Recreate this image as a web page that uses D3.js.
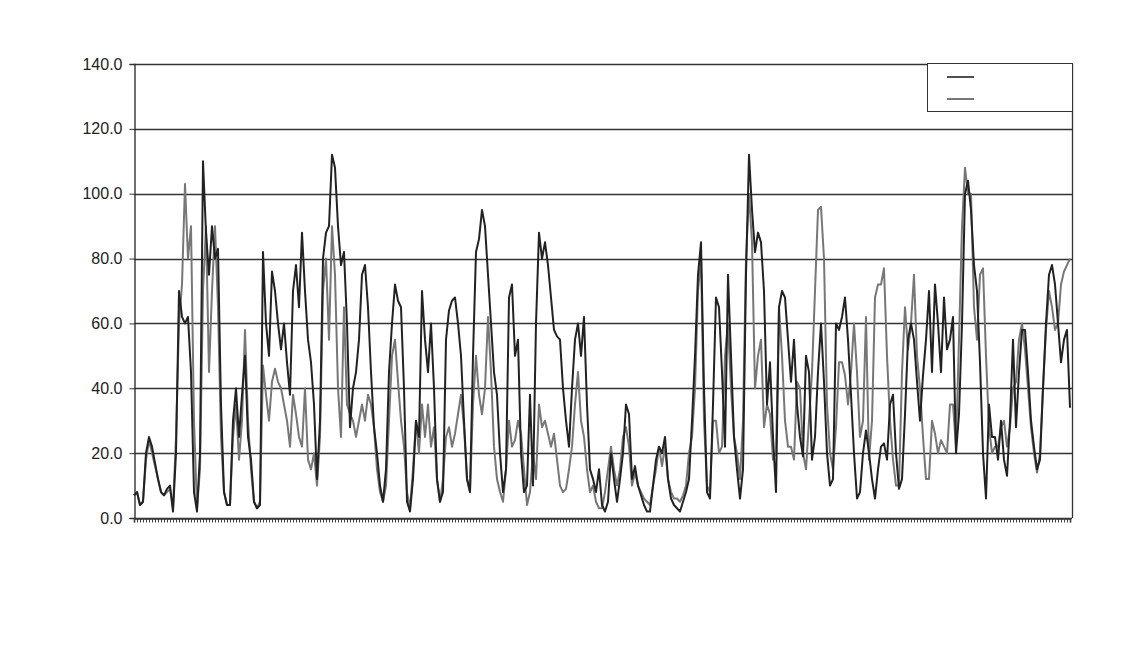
<!DOCTYPE html>
<html>
<head>
<meta charset="utf-8">
<script src="https://cdn.jsdelivr.net/npm/d3@7"></script>
<style>
  html, body { margin: 0; padding: 0; background: #ffffff; }
  svg { display: block; }
  text { font-family: "Liberation Sans", Arial, sans-serif; }
</style>
</head>
<body>
<svg id="chart" width="1133" height="648"></svg>
<script>
const yTicks = [0, 20, 40, 60, 80, 100, 120, 140];

const seriesDark = [
  7, 8, 4, 5, 20, 25, 22, 17, 12, 8, 7, 9, 10, 2, 20, 70, 62, 60, 62, 45,
  8, 2, 20, 110, 88, 75, 90, 80, 83, 35, 8, 4, 4, 30, 40, 25, 38, 50, 25, 18,
  5, 3, 4, 82, 60, 50, 76, 70, 60, 52, 60, 48, 38, 70, 78, 65, 88, 70, 55, 48,
  35, 12, 30, 80, 88, 90, 112, 108, 90, 78, 82, 60, 28, 40, 45, 55, 75, 78, 65, 45,
  28, 20, 10, 5, 15, 45, 60, 72, 67, 65, 40, 5, 2, 12, 30, 25, 70, 55, 45, 60,
  40, 12, 5, 8, 55, 64, 67, 68, 60, 50, 30, 12, 8, 50, 82, 86, 95, 90, 75, 60,
  45, 38, 20, 8, 15, 68, 72, 50, 55, 20, 8, 10, 38, 10, 60, 88, 80, 85, 78, 68,
  58, 56, 55, 40, 30, 22, 40, 55, 60, 50, 62, 35, 15, 12, 8, 15, 4, 2, 5, 20,
  12, 5, 12, 20, 35, 32, 12, 16, 10, 7, 4, 2, 2, 10, 18, 22, 20, 25, 12, 6,
  4, 3, 2, 5, 8, 12, 30, 50, 75, 85, 40, 8, 6, 35, 68, 65, 45, 22, 75, 50,
  25, 15, 6, 15, 75, 112, 95, 82, 88, 85, 70, 35, 48, 25, 8, 65, 70, 68, 55, 42,
  55, 35, 25, 19, 50, 45, 18, 25, 45, 60, 42, 20, 10, 12, 60, 58, 62, 68, 55, 38,
  20, 6, 8, 20, 27, 20, 12, 6, 15, 22, 23, 18, 35, 38, 20, 9, 12, 32, 55, 60,
  55, 42, 30, 44, 55, 70, 45, 72, 60, 45, 68, 52, 55, 62, 20, 32, 60, 100, 104, 95,
  78, 70, 48, 20, 6, 35, 25, 25, 18, 30, 18, 13, 30, 55, 28, 45, 58, 58, 45, 30,
  22, 15, 18, 40, 60, 75, 78, 72, 60, 48, 55, 58, 34
];

const seriesGrey = [
  7, 8, 4, 5, 18, 24, 20, 16, 12, 8, 7, 8, 9, 3, 25, 60, 72, 103, 80, 90,
  30, 3, 15, 70, 90, 45, 70, 90, 65, 25, 8, 4, 4, 25, 35, 18, 30, 58, 30, 15,
  5, 3, 5, 47, 38, 30, 42, 46, 42, 40, 35, 30, 22, 38, 32, 25, 22, 40, 18, 15,
  20, 10, 25, 70, 80, 55, 90, 75, 40, 25, 65, 35, 32, 30, 25, 30, 35, 30, 38, 35,
  28, 15, 8, 5, 10, 30, 50, 55, 42, 30, 22, 8, 3, 15, 30, 20, 35, 25, 35, 22,
  28, 12, 5, 12, 25, 28, 22, 26, 32, 38, 28, 12, 8, 35, 50, 38, 32, 40, 62, 45,
  22, 12, 8, 5, 15, 30, 22, 24, 30, 26, 15, 4, 8, 20, 12, 35, 28, 30, 26, 22,
  26, 18, 10, 8, 9, 15, 22, 35, 45, 30, 25, 15, 8, 10, 5, 3, 3, 8, 15, 22,
  15, 10, 15, 25, 28, 22, 10, 14, 10, 8, 6, 5, 4, 10, 15, 22, 16, 22, 12, 8,
  6, 6, 5, 7, 10, 20, 25, 40, 70, 80, 30, 10, 8, 30, 30, 20, 22, 50, 60, 40,
  25, 20, 12, 30, 80, 100, 85, 40, 50, 55, 28, 35, 32, 18, 20, 65, 50, 30, 22, 22,
  18, 42, 40, 20, 15, 30, 45, 70, 95, 96, 80, 35, 20, 15, 28, 48, 48, 44, 35, 45,
  60, 45, 25, 30, 62, 18, 30, 68, 72, 72, 77, 50, 30, 18, 10, 10, 45, 65, 52, 60,
  75, 50, 40, 25, 12, 12, 30, 26, 20, 24, 22, 20, 35, 35, 22, 55, 90, 108, 100, 100,
  65, 55, 75, 77, 50, 28, 20, 22, 22, 28, 30, 22, 28, 40, 42, 55, 60, 52, 40, 28,
  20, 14, 20, 40, 58, 70, 65, 58, 60, 72, 76, 78, 80
];

// ---- layout ----
const svg = d3.select("#chart");
const plotL = 134, plotR = 1072, plotT = 64, plotB = 518;
const n = Math.max(seriesDark.length, seriesGrey.length);

const x = d3.scaleLinear().domain([0, n - 1]).range([plotL, plotR - 2]);
const y = d3.scaleLinear().domain([0, 140]).range([plotB, plotT]);

svg.append("rect").attr("width", 1133).attr("height", 648).attr("fill", "#ffffff");

// gridlines
svg.append("g")
  .selectAll("line")
  .data(yTicks)
  .join("line")
  .attr("x1", plotL).attr("x2", plotR)
  .attr("y1", d => Math.round(y(d)) + 0.5).attr("y2", d => Math.round(y(d)) + 0.5)
  .attr("stroke", "#333").attr("stroke-width", 1.3);

// plot frame (right side)
svg.append("line")
  .attr("x1", plotR + 0.5).attr("x2", plotR + 0.5)
  .attr("y1", plotT).attr("y2", plotB)
  .attr("stroke", "#333").attr("stroke-width", 1.3);

// y axis
const yAxis = d3.axisLeft(y).tickValues(yTicks).tickSize(5).tickPadding(7)
  .tickFormat(d3.format(".1f"));
const gy = svg.append("g").attr("transform", `translate(${plotL + 0.5},0)`).call(yAxis);
gy.select(".domain").attr("stroke", "#333").attr("stroke-width", 1.4);
gy.selectAll(".tick line").attr("stroke", "#333");
gy.selectAll(".tick text").attr("font-size", 16).attr("fill", "#222")
  .attr("font-family", "'Liberation Sans', Arial, sans-serif");

// x axis: dense category ticks, no labels
const xAxis = d3.axisBottom(x).tickValues(d3.range(n)).tickSize(4).tickFormat("");
const gx = svg.append("g").attr("transform", `translate(0,${plotB + 0.5})`).call(xAxis);
gx.select(".domain").attr("stroke", "#333").attr("stroke-width", 1.6);
gx.selectAll(".tick line").attr("stroke", "#444").attr("stroke-width", 1);

// lines
const line = d3.line().x((d, i) => x(i)).y(d => y(d));

svg.append("path")
  .datum(seriesGrey)
  .attr("fill", "none")
  .attr("stroke", "#777777")
  .attr("stroke-width", 2)
  .attr("stroke-linejoin", "round")
  .attr("d", line);

svg.append("path")
  .datum(seriesDark)
  .attr("fill", "none")
  .attr("stroke", "#222222")
  .attr("stroke-width", 2)
  .attr("stroke-linejoin", "round")
  .attr("d", line);

// legend (no labels in the reference)
const legend = svg.append("g");
legend.append("rect")
  .attr("x", 927.5).attr("y", 63.5).attr("width", 145).attr("height", 48)
  .attr("fill", "#ffffff").attr("stroke", "#333").attr("stroke-width", 1);
const legendItems = [
  { color: "#222222" },
  { color: "#555555" }
];
legend.selectAll("line.item")
  .data(legendItems)
  .join("line")
  .attr("class", "item")
  .attr("x1", 947).attr("x2", 974)
  .attr("y1", (d, i) => 77 + i * 22).attr("y2", (d, i) => 77 + i * 22)
  .attr("stroke", d => d.color).attr("stroke-width", 1.6);
</script>
</body>
</html>
